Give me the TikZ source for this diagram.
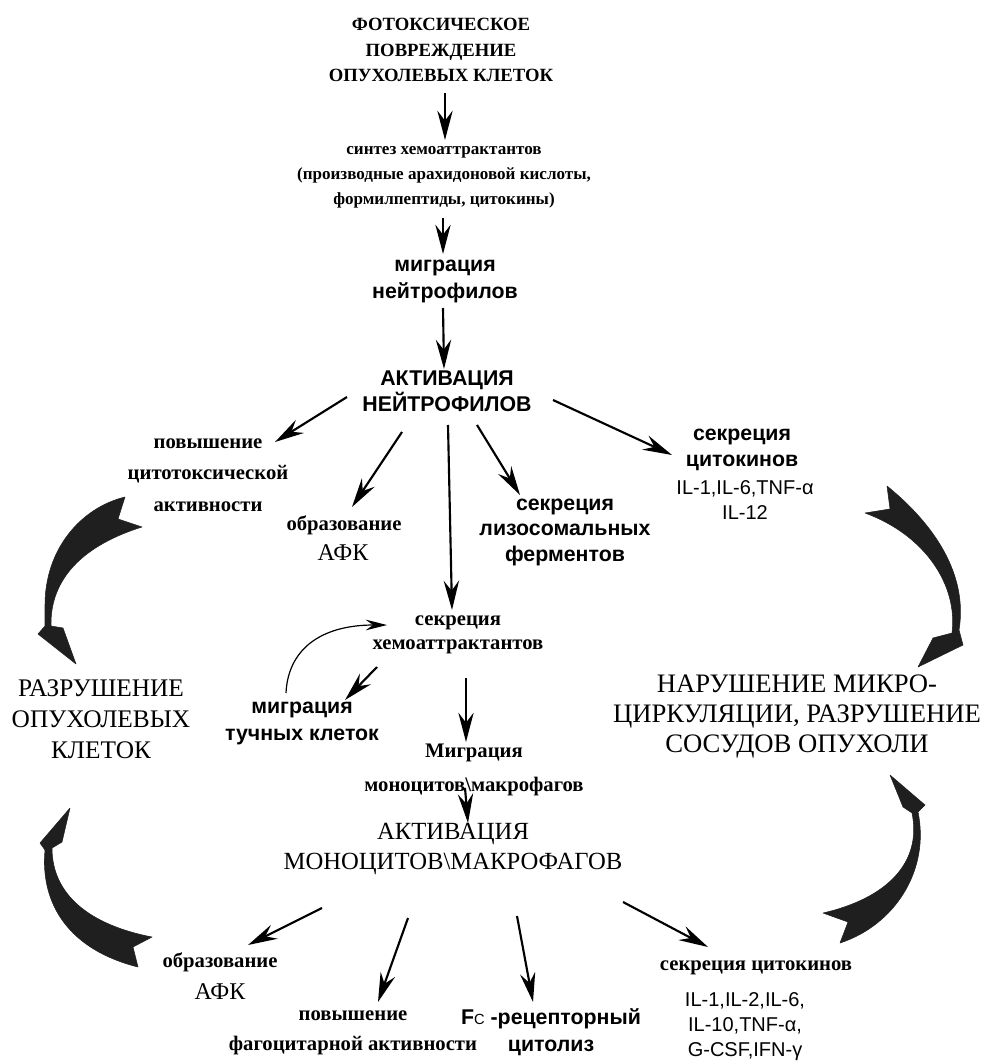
\documentclass[tikz,border=0pt]{standalone}
\usepackage{fontspec}
\setmainfont{Liberation Serif}
\newfontfamily\sansf{Liberation Sans}
\usetikzlibrary{arrows.meta}
\begin{document}
\begin{tikzpicture}[x=0.75pt,y=-0.75pt,
  every node/.style={inner sep=0pt, align=center},
  tit/.style={font=\fontsize{14}{19.1}\selectfont\bfseries},
  sm/.style={font=\fontsize{12.8}{18.75}\selectfont\bfseries},
  lab/.style={font=\fontsize{15.5}{#1}\selectfont\bfseries},
  lab/.default=20pt,
  sb/.style={font=\sansf\fontsize{16}{#1}\selectfont\bfseries},
  sb/.default=20pt,
  il/.style={font=\sansf\fontsize{15}{18.75}\selectfont},
  arr/.style={line width=1.6pt, -{Stealth[length=22pt,width=11.5pt,inset=7.5pt]}},
  thinarr/.style={line width=0.9pt, -{Stealth[length=16pt,width=8pt,inset=5.5pt]}},
  bigarrow/.style={fill=black!88, draw=black!88, line width=0.4pt, line join=round}]
\useasboundingbox (0,0) rectangle (995,1062);
\fill[white] (0,0) rectangle (995,1062);

% ---- nodes ----
\node[tit] (title) at (441,50) {ФОТОКСИЧЕСКОЕ\\ПОВРЕЖДЕНИЕ\\ОПУХОЛЕВЫХ КЛЕТОК};
\node[sm] (synth) at (444,177) {синтез хемоаттрактантов\\(производные арахидоновой кислоты,\\формилпептиды, цитокины)};
\node[sb=20.25pt] (migN) at (445,281) {миграция\\нейтрофилов};
\node[sb=19.5pt] (actN) at (447,391) {АКТИВАЦИЯ\\НЕЙТРОФИЛОВ};
\node[lab=23.6pt] (cyto1) at (208,475) {повышение\\цитотоксической\\активности};
\node[lab] (afk1a) at (344,525) {образование};
\node[font=\fontsize{18}{20}\selectfont] (afk1b) at (343,553) {АФК};
\node[sb=19.1pt] (lyso) at (565,532) {секреция\\лизосомальных\\ферментов};
\node[sb=19.5pt] (cytoN) at (742,450) {секреция\\цитокинов};
\node[il] (ilN) at (745,500) {IL-1,IL-6,TNF-α\\IL-12};
\node[font=\fontsize{19}{23.25}\selectfont] (destroyL) at (101,719) {РАЗРУШЕНИЕ\\ОПУХОЛЕВЫХ\\КЛЕТОК};
\node[font=\fontsize{20}{22.5}\selectfont] (microR) at (797,717) {НАРУШЕНИЕ МИКРО-\\ЦИРКУЛЯЦИИ, РАЗРУШЕНИЕ\\СОСУДОВ ОПУХОЛИ};
\node[lab=18pt] (chemo2) at (458,635) {секреция\\хемоаттрактантов};
\node[sb=20.25pt] (mast) at (302,723) {миграция\\тучных клеток};
\node[lab=25.5pt] (migM) at (474,770) {Миграция\\моноцитов\textbackslash макрофагов};
\node[font=\fontsize{18.5}{22}\selectfont] (actM) at (453,849) {АКТИВАЦИЯ\\МОНОЦИТОВ\textbackslash МАКРОФАГОВ};
\node[lab] (afk2a) at (220,962) {образование};
\node[font=\fontsize{18}{20}\selectfont] (afk2b) at (220,992) {АФК};
\node[lab=22.5pt] (phago) at (353,1033) {повышение\\фагоцитарной активности};
\node[sb=20.25pt] (fc) at (551,1032) {F{\mdseries\fontsize{11}{11}\selectfont C} -рецепторный\\цитолиз};
\node[lab] (cytoM) at (756,968) {секреция цитокинов};
\node[il] (ilM) at (745,1027) {IL-1,IL-2,IL-6,\\IL-10,TNF-α,\\G-CSF,IFN-γ};

% ---- connectors ----
\draw[arr] ([shift={(4,43)}]title.center) -- ([shift={(1,-37)}]synth.center);
\draw[arr] ([shift={(-1,41)}]synth.center) -- ([shift={(-2,-27)}]migN.center);
\draw[arr] ([shift={(-2,27)}]migN.center) -- ([shift={(-3,-22)}]actN.center);
\draw[arr] ([shift={(-100,6)}]actN.center) -- ([shift={(67,-33)}]cyto1.center);
\draw[arr] ([shift={(-45,41)}]actN.center) -- ([shift={(8,-18)}]afk1a.center);
\draw[arr] ([shift={(1,34)}]actN.center) -- ([shift={(-6,-25)}]chemo2.center);
\draw[arr] ([shift={(30,34)}]actN.center) -- ([shift={(-45,-37)}]lyso.center);
\draw[arr] ([shift={(106,9)}]actN.center) -- ([shift={(-70,5)}]cytoN.center);
\draw[thinarr] ([shift={(-16,-30)}]mast.center) .. controls (288,650) and (320,625) .. ([shift={(-71,-10)}]chemo2.center);
\draw[arr] ([shift={(-81,32)}]chemo2.center) -- ([shift={(43,-23)}]mast.center);
\draw[arr] ([shift={(8,43)}]chemo2.center) -- ([shift={(-8,-28)}]migM.center);
\draw[arr] ([shift={(-9,18)}]migM.center) -- ([shift={(15,-26)}]actM.center);
\draw[arr] ([shift={(-131,59)}]actM.center) -- ([shift={(28,-17)}]afk2a.center);
\draw[arr] ([shift={(-45,69)}]actM.center) -- ([shift={(25,-31)}]phago.center);
\draw[arr] ([shift={(64,67)}]actM.center) -- ([shift={(-18,-30)}]fc.center);
\draw[arr] ([shift={(170,53)}]actM.center) -- ([shift={(-48,-21)}]cytoM.center);

% ---- big curved arrows ----
\path[bigarrow] (125,497) .. controls (80,508) and (45,550) .. (45,605) -- (45,626) -- (38,634) -- (76,664) -- (63,628) -- (51,626)
  .. controls (50,585) and (75,548) .. (142,527) -- (118,519) -- cycle;
\path[bigarrow] (887,486) .. controls (935,525) and (968,575) .. (959,630) -- (963,645) -- (918,667) -- (933,638) -- (952,633)
  .. controls (958,585) and (925,535) .. (865,513) -- (890,509) -- cycle;
\path[bigarrow] (70,808) -- (62,842) -- (52,848) .. controls (52,895) and (90,925) .. (152,937) -- (133,947) -- (138,967)
  .. controls (70,950) and (40,905) .. (45,850) -- (40,843) -- cycle;
\path[bigarrow] (890,775) -- (925,805) -- (918,812) .. controls (930,870) and (895,925) .. (840,943) -- (848,922) -- (823,913)
  .. controls (888,898) and (922,862) .. (912,813) -- (903,807) -- cycle;
\end{tikzpicture}
\end{document}
